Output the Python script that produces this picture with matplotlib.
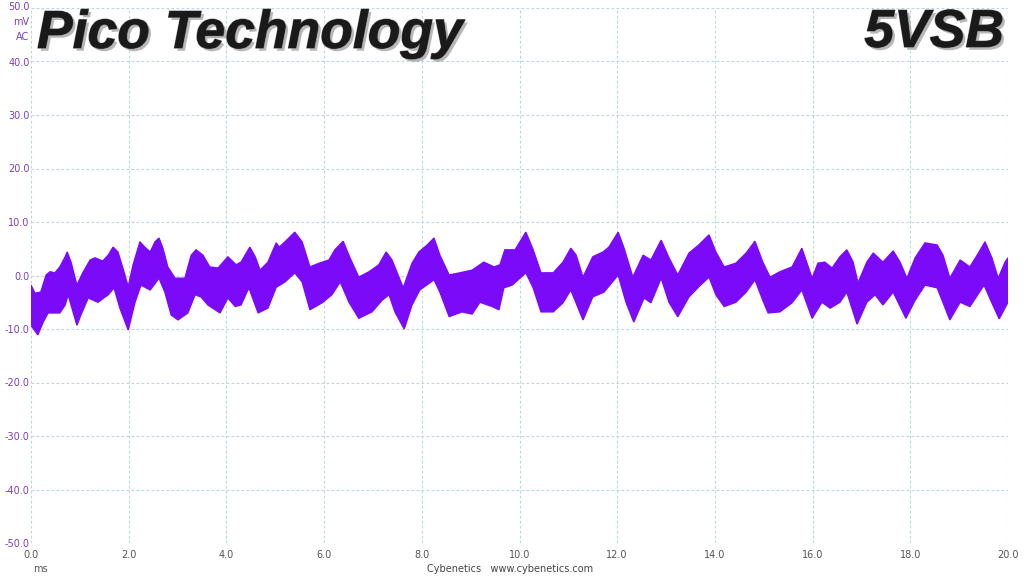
import matplotlib
matplotlib.use("Agg")
import matplotlib.pyplot as plt
import matplotlib.patheffects as pe

# Upper envelope of the ripple band (time in ms, value in mV)
upper_t = [0.00, 0.08, 0.20, 0.31, 0.39, 0.49, 0.59, 0.70, 0.74, 0.82, 0.94, 1.06, 1.21, 1.31,
           1.47, 1.58, 1.68, 1.78, 1.88, 1.99, 2.09, 2.23, 2.33, 2.44, 2.54, 2.62, 2.70, 2.80,
           2.95, 3.15, 3.28, 3.38, 3.52, 3.66, 3.83, 4.03, 4.20, 4.30, 4.48, 4.59, 4.69, 4.85,
           5.02, 5.08, 5.20, 5.40, 5.55, 5.71, 5.90, 6.10, 6.22, 6.39, 6.53, 6.71, 6.92, 7.12,
           7.27, 7.39, 7.62, 7.80, 7.94, 8.11, 8.25, 8.37, 8.56, 8.78, 9.03, 9.27, 9.48, 9.60,
           9.70, 9.91, 9.99, 10.13, 10.28, 10.44, 10.69, 10.89, 11.05, 11.16, 11.30, 11.50,
           11.71, 11.83, 12.02, 12.14, 12.32, 12.53, 12.69, 12.90, 13.06, 13.24, 13.47, 13.67,
           13.88, 14.02, 14.19, 14.43, 14.64, 14.82, 14.98, 15.13, 15.33, 15.58, 15.78, 15.99,
           16.11, 16.25, 16.40, 16.56, 16.70, 16.83, 16.93, 17.11, 17.24, 17.44, 17.65, 17.79,
           17.93, 18.10, 18.30, 18.55, 18.67, 18.81, 19.02, 19.22, 19.37, 19.53, 19.67, 19.80,
           19.94, 20.00]
upper_v = [-1.8, -3.3, -3.1, 0.1, 0.7, 0.5, 1.6, 3.5, 4.4, 2.5, -1.8, 0.5, 2.9, 3.3,
           2.7, 3.8, 5.3, 4.4, 1.4, -2.1, 2.0, 6.3, 5.3, 4.4, 6.3, 7.0, 5.1, 1.6,
           -0.5, -0.5, 3.8, 4.8, 3.8, 1.6, 1.4, 3.5, 2.0, 2.5, 5.3, 3.5, 1.0, 2.5,
           6.1, 5.3, 6.3, 8.1, 6.3, 1.6, 2.3, 2.9, 4.8, 6.4, 3.3, -0.3, 0.7, 2.0,
           4.4, 2.9, -2.3, 2.3, 4.4, 5.7, 7.0, 3.8, 0.1, 0.5, 1.0, 2.5, 1.6, 2.0,
           4.8, 4.8, 6.0, 8.1, 4.8, 0.5, 0.5, 2.5, 5.1, 3.8, -0.3, 3.5,
           4.4, 5.3, 8.1, 5.1, -0.3, 3.8, 2.9, 6.6, 3.3, 0.1, 4.2, 5.7,
           7.6, 4.4, 1.6, 2.3, 4.2, 6.4, 2.5, -0.3, 0.7, 1.6, 5.1, -0.5,
           2.3, 2.5, 1.4, 3.5, 4.8, 2.5, -1.4, 2.5, 4.2, 2.5, 4.6, 2.5,
           -0.5, 3.3, 6.1, 5.7, 3.8, -0.5, 2.9, 1.6, 3.8, 6.3, 3.3, -0.5,
           2.5, 3.3]

# Lower envelope of the ripple band
lower_t = [0.00, 0.14, 0.25, 0.35, 0.59, 0.70, 0.76, 0.82, 0.94, 1.02, 1.17, 1.37, 1.58, 1.70,
           1.82, 1.99, 2.13, 2.25, 2.44, 2.62, 2.74, 2.87, 3.01, 3.21, 3.36, 3.48, 3.62, 3.87,
           4.03, 4.18, 4.30, 4.46, 4.65, 4.85, 5.02, 5.20, 5.40, 5.55, 5.71, 5.96, 6.16, 6.33,
           6.51, 6.71, 6.98, 7.19, 7.33, 7.45, 7.64, 7.80, 7.96, 8.25, 8.37, 8.56, 8.82, 9.03,
           9.19, 9.44, 9.58, 9.68, 9.85, 10.13, 10.28, 10.44, 10.69, 10.89, 11.05, 11.30, 11.50,
           11.73, 12.02, 12.18, 12.34, 12.55, 12.69, 12.90, 13.06, 13.24, 13.47, 13.67, 13.88,
           14.02, 14.19, 14.43, 14.64, 14.82, 14.98, 15.09, 15.33, 15.58, 15.78, 15.99, 16.19,
           16.36, 16.56, 16.70, 16.91, 17.11, 17.28, 17.44, 17.65, 17.91, 18.10, 18.30, 18.55,
           18.81, 19.02, 19.22, 19.51, 19.67, 19.82, 20.00]
lower_v = [-9.3, -11.1, -8.7, -7.0, -7.0, -5.5, -3.6, -5.5, -9.3, -7.4, -4.2, -5.0, -3.6, -2.3,
           -6.1, -10.2, -5.0, -1.8, -2.7, -0.5, -3.1, -7.4, -8.3, -7.0, -3.6, -4.0, -5.5, -7.0,
           -4.2, -5.8, -5.5, -2.3, -7.0, -6.1, -2.2, -1.2, 0.5, -1.2, -6.4, -5.1, -3.6, -1.2,
           -5.0, -8.0, -6.8, -4.6, -3.6, -6.8, -10.0, -5.5, -2.7, -0.8, -3.1, -7.7, -6.8, -7.2,
           -5.0, -5.8, -6.4, -2.3, -1.8, 0.5, -2.3, -6.8, -6.8, -5.1, -2.7, -8.3, -4.0,
           -3.1, 0.1, -5.0, -8.7, -4.2, -5.1, -0.5, -5.0, -7.7, -4.0, -2.1, -0.3,
           -3.6, -5.8, -5.0, -3.1, -0.8, -4.6, -7.0, -6.8, -5.1, -2.7, -8.0, -5.0,
           -6.1, -5.0, -3.1, -9.1, -5.0, -3.6, -5.5, -3.1, -8.0, -4.6, -1.8, -2.3,
           -8.3, -5.0, -5.8, -1.8, -5.1, -8.1, -5.0]

x_ticks = [0.0, 2.0, 4.0, 6.0, 8.0, 10.0, 12.0, 14.0, 16.0, 18.0, 20.0]
y_ticks = [-50.0, -40.0, -30.0, -20.0, -10.0, 0.0, 10.0, 20.0, 30.0, 40.0, 50.0]

title_left = "Pico Technology"
title_right = "5VSB"
footer = "Cybenetics   www.cybenetics.com"

wave_color = "#7A0AF8"
label_purple = "#7A3FC0"
grid_color = "#BCD8DC"

fig = plt.figure(figsize=(10.24, 5.76), dpi=100)
ax = fig.add_axes([31 / 1024, 1 - 543 / 576, (1008 - 31) / 1024, (543 - 8) / 576])

poly_t = list(upper_t) + list(lower_t[::-1])
poly_v = list(upper_v) + list(lower_v[::-1])
ax.fill(poly_t, poly_v, color=wave_color, lw=1.0, ec=wave_color, zorder=3)

ax.set_xlim(0, 20)
ax.set_ylim(-50, 50)
ax.set_xticks(x_ticks)
ax.set_yticks(y_ticks)
ax.set_xticklabels([f"{v:.1f}" for v in x_ticks])
ax.set_yticklabels([f"{v:.1f}" if v != 50 else "" for v in y_ticks])
ax.tick_params(axis="both", length=0)
ax.tick_params(axis="y", colors=label_purple, labelsize=7, pad=1)
ax.tick_params(axis="x", colors="#555555", labelsize=7, pad=5)
for s in ax.spines.values():
    s.set_visible(False)
ax.grid(True, color=grid_color, linestyle=(0, (2.5, 2)), linewidth=0.8, zorder=0)
ax.set_axisbelow(True)

# Top-left labels of the y axis
fig.text(30 / 1024, 1 - 7 / 576, "50.0", ha="right", va="center", fontsize=7, color=label_purple)
fig.text(29 / 1024, 1 - 22 / 576, "mV", ha="right", va="center", fontsize=7, color=label_purple)
fig.text(29 / 1024, 1 - 37 / 576, "AC", ha="right", va="center", fontsize=7, color=label_purple)

fig.text(40 / 1024, 1 - 569 / 576, "ms", ha="center", va="center", fontsize=7, color="#555555")
fig.text(510 / 1024, 1 - 569 / 576, footer, ha="center", va="center", fontsize=7, color="#444444")

effects = [pe.withSimplePatchShadow(offset=(2, -2), shadow_rgbFace="#9a9a9a", alpha=0.7),
           pe.withStroke(linewidth=1.0, foreground="#777777"), pe.Normal()]
fig.text(37 / 1024, 1 - 48 / 576, title_left, ha="left", va="baseline", fontsize=38.5,
         fontweight="bold", fontstyle="italic", family="Liberation Sans", color="#1a1a1a",
         path_effects=effects)
fig.text(1004 / 1024, 1 - 47 / 576, title_right, ha="right", va="baseline", fontsize=38.5,
         fontweight="bold", fontstyle="italic", family="Liberation Sans", color="#1a1a1a",
         path_effects=effects)

fig.savefig("out.png", dpi=100)
